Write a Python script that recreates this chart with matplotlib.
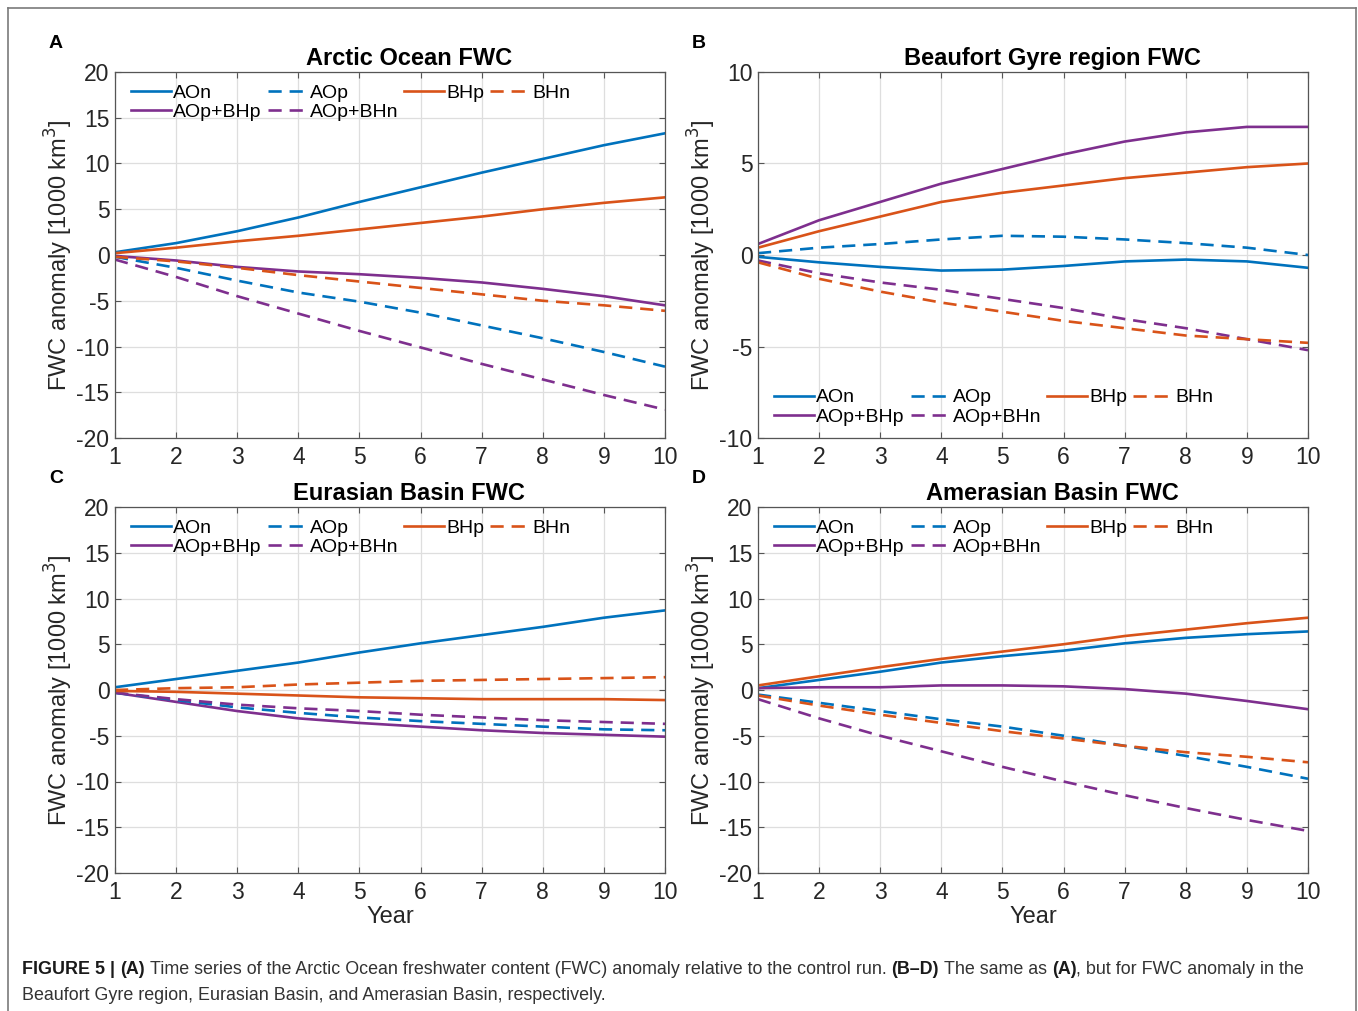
import matplotlib
matplotlib.use("Agg")
import matplotlib.pyplot as plt
from matplotlib.lines import Line2D

plt.rcParams['font.family'] = ['Liberation Sans', 'DejaVu Sans']
plt.rcParams['axes.unicode_minus'] = False

years = [1, 2, 3, 4, 5, 6, 7, 8, 9, 10]
series_names = ['AOn', 'AOp+BHp', 'AOp', 'AOp+BHn', 'BHp', 'BHn']

# A: Arctic Ocean
arctic_aon = [0.3, 1.3, 2.6, 4.1, 5.8, 7.4, 9.0, 10.5, 12.0, 13.3]
arctic_aop = [-0.2, -1.4, -2.8, -4.1, -5.1, -6.3, -7.7, -9.1, -10.6, -12.2]
arctic_bhp = [0.2, 0.8, 1.5, 2.1, 2.8, 3.5, 4.2, 5.0, 5.7, 6.3]
arctic_bhn = [-0.2, -0.7, -1.4, -2.2, -2.9, -3.6, -4.3, -5.0, -5.5, -6.1]
arctic_aop_bhp = [-0.1, -0.6, -1.3, -1.8, -2.1, -2.5, -3.0, -3.7, -4.5, -5.5]
arctic_aop_bhn = [-0.5, -2.4, -4.5, -6.4, -8.3, -10.1, -11.9, -13.6, -15.3, -16.9]

# B: Beaufort Gyre region
bg_aon = [-0.1, -0.4, -0.65, -0.85, -0.8, -0.6, -0.35, -0.25, -0.35, -0.7]
bg_aop = [0.1, 0.4, 0.6, 0.85, 1.05, 1.0, 0.85, 0.65, 0.4, 0.0]
bg_bhp = [0.4, 1.3, 2.1, 2.9, 3.4, 3.8, 4.2, 4.5, 4.8, 5.0]
bg_bhn = [-0.4, -1.3, -2.0, -2.6, -3.1, -3.6, -4.0, -4.4, -4.6, -4.8]
bg_aop_bhp = [0.6, 1.9, 2.9, 3.9, 4.7, 5.5, 6.2, 6.7, 7.0, 7.0]
bg_aop_bhn = [-0.3, -1.0, -1.5, -1.9, -2.4, -2.9, -3.5, -4.0, -4.6, -5.2]

# C: Eurasian Basin
eb_aon = [0.3, 1.2, 2.1, 3.0, 4.1, 5.1, 6.0, 6.9, 7.9, 8.7]
eb_aop = [-0.3, -1.1, -1.9, -2.5, -3.0, -3.4, -3.7, -4.0, -4.3, -4.4]
eb_bhp = [-0.1, -0.2, -0.4, -0.6, -0.8, -0.9, -1.0, -1.0, -1.0, -1.1]
eb_bhn = [0.0, 0.2, 0.3, 0.6, 0.8, 1.0, 1.1, 1.2, 1.3, 1.4]
eb_aop_bhp = [-0.3, -1.3, -2.3, -3.1, -3.6, -4.0, -4.4, -4.7, -4.9, -5.1]
eb_aop_bhn = [-0.3, -1.0, -1.6, -2.0, -2.3, -2.7, -3.0, -3.3, -3.5, -3.7]

# D: Amerasian Basin
ab_aon = [0.2, 1.1, 2.0, 3.0, 3.7, 4.3, 5.1, 5.7, 6.1, 6.4]
ab_aop = [-0.5, -1.4, -2.3, -3.2, -4.0, -5.0, -6.1, -7.2, -8.4, -9.7]
ab_bhp = [0.5, 1.5, 2.5, 3.4, 4.2, 5.0, 5.9, 6.6, 7.3, 7.9]
ab_bhn = [-0.6, -1.7, -2.7, -3.6, -4.5, -5.3, -6.1, -6.8, -7.3, -7.9]
ab_aop_bhp = [0.2, 0.3, 0.3, 0.5, 0.5, 0.4, 0.1, -0.4, -1.2, -2.1]
ab_aop_bhn = [-1.0, -3.1, -5.0, -6.7, -8.4, -10.0, -11.5, -12.9, -14.2, -15.4]

blue = '#0072BD'
orange = '#D95319'
purple = '#7E2F8E'
styles = {
    'AOn': (blue, '-'), 'AOp': (blue, '--'),
    'BHp': (orange, '-'), 'BHn': (orange, '--'),
    'AOp+BHp': (purple, '-'), 'AOp+BHn': (purple, '--'),
}

W, H = 1358, 1011
fig = plt.figure(figsize=(W / 100, H / 100), dpi=100)

panels = [
    ('A', 'Arctic Ocean FWC', [115, 72], (-20, 20), 'upper',
     dict(zip(series_names, [arctic_aon, arctic_aop_bhp, arctic_aop, arctic_aop_bhn, arctic_bhp, arctic_bhn]))),
    ('B', 'Beaufort Gyre region FWC', [758, 72], (-10, 10), 'lower',
     dict(zip(series_names, [bg_aon, bg_aop_bhp, bg_aop, bg_aop_bhn, bg_bhp, bg_bhn]))),
    ('C', 'Eurasian Basin FWC', [115, 507], (-20, 20), 'upper',
     dict(zip(series_names, [eb_aon, eb_aop_bhp, eb_aop, eb_aop_bhn, eb_bhp, eb_bhn]))),
    ('D', 'Amerasian Basin FWC', [758, 507], (-20, 20), 'upper',
     dict(zip(series_names, [ab_aon, ab_aop_bhp, ab_aop, ab_aop_bhn, ab_bhp, ab_bhn]))),
]

aw, ah = 550, 366
for letter, title, (px, py), ylim, legpos, data in panels:
    ax = fig.add_axes([px / W, 1 - (py + ah) / H, aw / W, ah / H])
    for name in series_names:
        col, ls = styles[name]
        ln, = ax.plot(years, data[name], color=col, lw=1.9, label=name)
        if ls == '--':
            ln.set_dashes((5, 3))
    ax.set_xlim(1, 10)
    ax.set_ylim(*ylim)
    ax.set_xticks(years)
    ax.set_yticks(range(ylim[0], ylim[1] + 1, 5))
    ax.grid(True, color='#dedede', lw=0.9)
    ax.set_axisbelow(True)
    for s in ax.spines.values():
        s.set_color('#555555')
        s.set_linewidth(0.9)
    ax.tick_params(direction='in', length=4, width=0.8, colors='#555555',
                   labelcolor='#262626', labelsize=16.5, pad=4,
                   top=True, right=True)
    ax.tick_params(axis='x', pad=6)
    ax.set_ylabel('FWC anomaly [1000 km$^3$]', fontsize=17, color='#262626', labelpad=1)
    if letter in ('C', 'D'):
        ax.set_xlabel('Year', fontsize=17, color='#262626', labelpad=1)
    ax.set_title(title, fontsize=17, fontweight='bold', x=0.535, pad=5)
    fig.text((px - 66) / W, 1 - 48 / H - (py - 72) / H, letter,
             fontsize=14, fontweight='bold', va='baseline', ha='left')
    if legpos == 'upper':
        anchor, loc = (16 / aw, 1 - 12 / ah), 'upper left'
    else:
        anchor, loc = (16 / aw, 12 / ah), 'lower left'
    ax.legend(loc=loc, bbox_to_anchor=anchor, ncol=4, frameon=False,
              fontsize=14, handlelength=2.05, handletextpad=0.12,
              columnspacing=0.3, labelspacing=0.1, borderpad=0,
              borderaxespad=0)

# outer frame (open at the bottom)
fx0, fy0, fx1 = 8 / W, 1 - 8 / H, 1356 / W
frame_col = '#7a7a7a'
fig.add_artist(Line2D([fx0, fx0], [0, fy0], color=frame_col, lw=1.2))
fig.add_artist(Line2D([fx0, fx1], [fy0, fy0], color=frame_col, lw=1.2))
fig.add_artist(Line2D([fx1, fx1], [0, fy0], color=frame_col, lw=1.2))

# caption with mixed weights
renderer = fig.canvas.get_renderer()
cap_size = 12.9
line1 = [('FIGURE 5 |', 'bold'), ('(A)', 'bold'),
         ('Time series of the Arctic Ocean freshwater content (FWC) anomaly relative to the control run.', 'normal'),
         ('(B\u2013D)', 'bold'), ('The same as', 'normal'), ('(A)', 'bold'),
         (', but for FWC anomaly in the', 'normal')]
line2 = [('Beaufort Gyre region, Eurasian Basin, and Amerasian Basin, respectively.', 'normal')]

sp = fig.text(0, 0, 'a a', fontsize=cap_size)
sp2 = fig.text(0, 0, 'aa', fontsize=cap_size)
space_w = sp.get_window_extent(renderer).width - sp2.get_window_extent(renderer).width
sp.remove()
sp2.remove()

for lineno, segs in enumerate([line1, line2]):
    x = 22
    yb = 1 - (974 + 26 * lineno) / H
    for i, (txt, wt) in enumerate(segs):
        if i > 0 and not txt.startswith(','):
            x += space_w
        t = fig.text(x / W, yb, txt, fontsize=cap_size, fontweight=wt,
                     color='#1a1a1a' if wt == 'bold' else '#333333', va='baseline')
        x += t.get_window_extent(renderer).width

fig.savefig('out.png', dpi=100)
